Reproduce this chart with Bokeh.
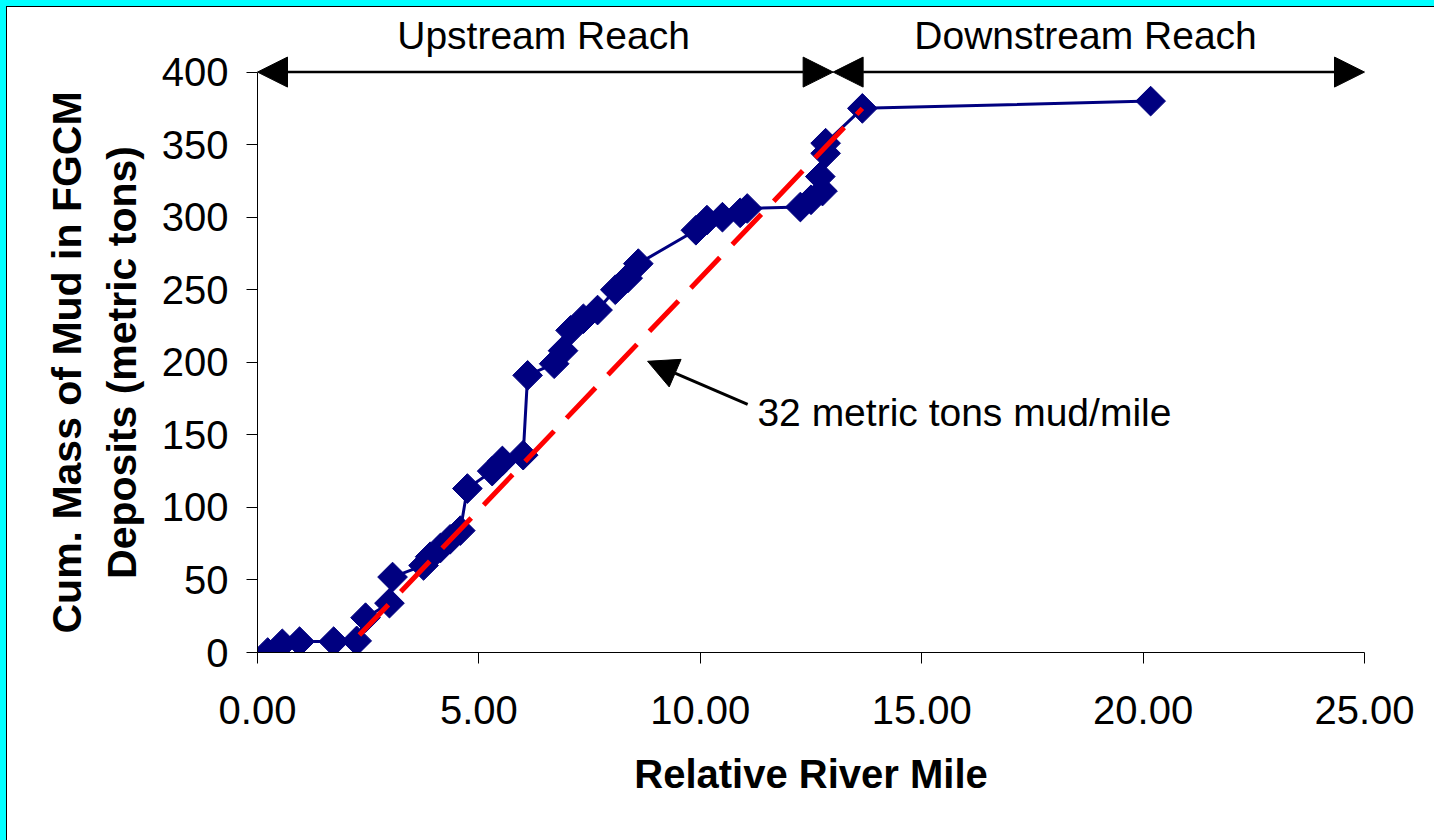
from bokeh.plotting import figure
from bokeh.models import Range1d, FixedTicker, PrintfTickFormatter, Arrow, NormalHead, Label
from bokeh.layouts import column
from bokeh.embed import file_html
from bokeh.resources import INLINE

# ---- data ----
river_mile = [0.23, 0.56, 0.95, 1.72, 2.24, 2.44, 2.98, 3.05, 3.75, 3.90, 4.13, 4.35, 4.58,
              4.74, 5.30, 5.53, 6.00, 6.10, 6.70, 6.90, 7.07, 7.36, 7.68, 8.08, 8.36, 8.60,
              9.90, 10.15, 10.50, 10.90, 11.06, 12.26, 12.50, 12.76, 12.71, 12.83, 12.83,
              13.66, 20.17]
cum_mass = [0, 6, 7.5, 7.5, 8, 24, 34, 52, 60, 66, 72, 78, 84,
            113, 125, 132, 136, 191, 199, 208, 222, 230, 236, 250, 258, 268,
            291, 298, 300, 303, 306, 307, 312, 318, 328, 344, 351,
            375, 380]

fit_mile = [2.3, 13.66]
fit_mass = [12, 375]
fit_label = "32 metric tons mud/mile"
fit_arrow_tail = (11.07, 171)
fit_arrow_tip = (8.81, 200.7)
fit_label_pos = (11.29, 165.5)

reach_bounds = [0, 13, 25]
reach_names = ["Upstream Reach", "Downstream Reach"]
reach_label_x = [6.46, 18.7]
reach_arrow_y = 400
reach_label_y = 425

x_ticks = [0, 5, 10, 15, 20, 25]
y_ticks = [0, 50, 100, 150, 200, 250, 300, 350, 400]

x_title = "Relative River Mile"
PAD = "\u00a0" * 5  # keeps the rotated title centred on the 0-400 span
y_title = "Cum. Mass of Mud in FGCM" + PAD + "\nDeposits (metric tons)" + PAD

FONT = "Liberation Sans"
NAVY = "#000080"

p = figure(width=1427, height=833, x_range=Range1d(0, 25), y_range=Range1d(0, 439),
           output_backend="svg", toolbar_location=None,
           min_border_left=250, min_border_right=70, min_border_top=8, min_border_bottom=188,
           background_fill_color=None, border_fill_color=None)
p.outline_line_color = None
p.xgrid.visible = False
p.ygrid.visible = False

for ax in (p.xaxis[0], p.yaxis[0]):
    ax.axis_line_color = "black"
    ax.axis_line_width = 1
    ax.major_tick_line_color = "black"
    ax.major_tick_out = 11
    ax.major_tick_in = 0
    ax.minor_tick_out = 0
    ax.minor_tick_in = 0
    ax.major_label_text_font = FONT
    ax.major_label_text_font_size = "40px"
    ax.major_label_text_color = "black"
    ax.axis_label_text_font = FONT
    ax.axis_label_text_font_style = "bold"
    ax.axis_label_text_color = "black"

xa = p.xaxis[0]
xa.ticker = FixedTicker(ticks=x_ticks)
xa.formatter = PrintfTickFormatter(format="%.2f")
xa.major_label_standoff = 32
xa.axis_label = x_title
xa.axis_label_text_font_size = "40px"
xa.axis_label_standoff = 25

ya = p.yaxis[0]
ya.bounds = (0, 400)
ya.ticker = FixedTicker(ticks=y_ticks)
ya.major_label_standoff = 18
ya.axis_label = y_title
ya.axis_label_text_font_size = "41px"
ya.axis_label_standoff = 14

# data series
p.line(river_mile, cum_mass, line_color=NAVY, line_width=3)
p.scatter(river_mile, cum_mass, marker="square", size=21, angle=0.785398,
          fill_color=NAVY, line_color=NAVY)

# fitted trend
p.line(fit_mile, fit_mass, line_color="#FF0000", line_width=5, line_dash="42 18")

# reach arrows
for i in range(2):
    p.add_layout(Arrow(x_start=reach_bounds[i], y_start=reach_arrow_y,
                       x_end=reach_bounds[i + 1], y_end=reach_arrow_y,
                       start=NormalHead(size=30, fill_color="black", line_color="black"),
                       end=NormalHead(size=30, fill_color="black", line_color="black"),
                       line_color="black", line_width=2.5))
    p.add_layout(Label(x=reach_label_x[i], y=reach_label_y, text=reach_names[i],
                       text_align="center", text_baseline="middle",
                       text_font=FONT, text_font_size="39px", text_color="black"))

# trend annotation
p.add_layout(Arrow(x_start=fit_arrow_tail[0], y_start=fit_arrow_tail[1],
                   x_end=fit_arrow_tip[0], y_end=fit_arrow_tip[1],
                   end=NormalHead(size=30, fill_color="black", line_color="black"),
                   line_color="black", line_width=3))
p.add_layout(Label(x=fit_label_pos[0], y=fit_label_pos[1], text=fit_label,
                   text_align="left", text_baseline="middle",
                   text_font=FONT, text_font_size="39px", text_color="black"))

white_box = column(p, styles={"background-color": "#FFFFFF"})
black_edge = column(white_box, styles={"background-color": "#000000", "padding-top": "1px", "padding-left": "1px"})
outer = column(black_edge, styles={"background-color": "#00FFFF", "padding-top": "6px", "padding-left": "6px"})

open("out.html", "w").write(file_html(outer, INLINE))
